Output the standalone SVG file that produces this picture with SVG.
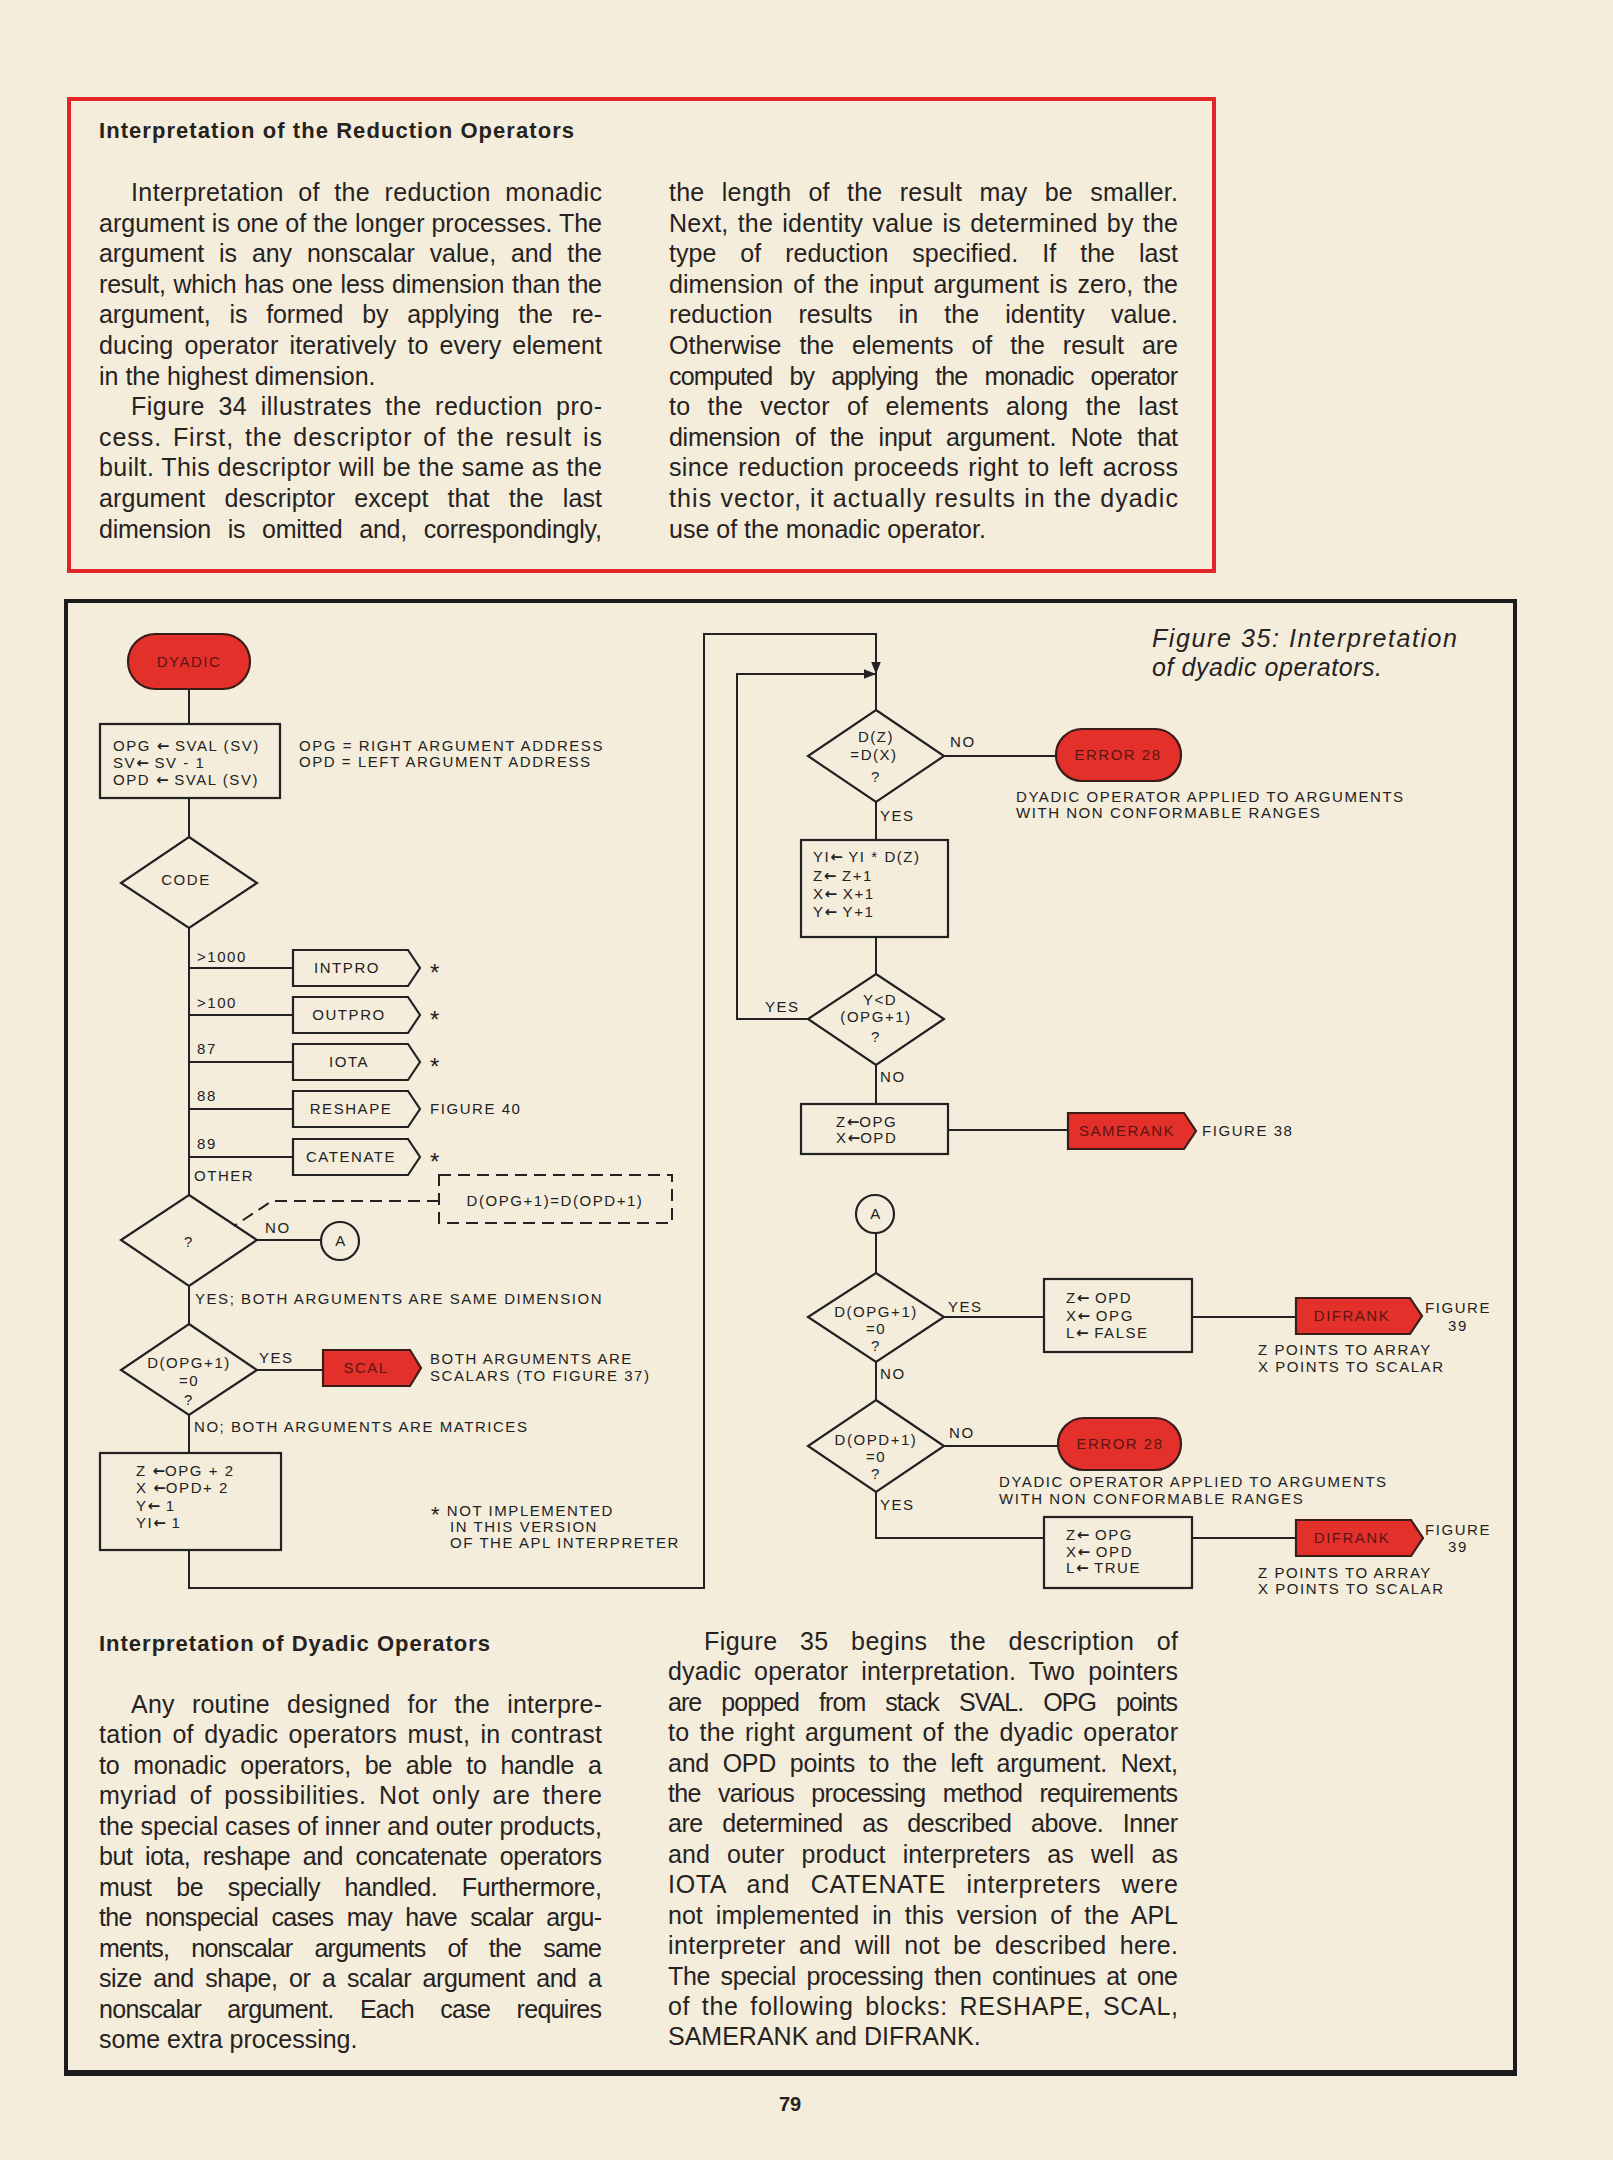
<svg xmlns="http://www.w3.org/2000/svg" width="1613" height="2160" viewBox="0 0 1613 2160">
<defs>
<style>
.bg{fill:#f4eddc}
.body{font-family:"Liberation Sans",Arial,sans-serif;font-size:25px;fill:#26221e}
.head{font-family:"Liberation Sans",Arial,sans-serif;font-size:22px;font-weight:bold;fill:#26221e}
.cap{font-family:"Liberation Sans",Arial,sans-serif;font-size:25px;font-style:italic;fill:#26221e}
.d{font-family:"Liberation Sans","DejaVu Sans",sans-serif;font-size:15px;letter-spacing:1.55px;fill:#222}
.dc{font-family:"Liberation Sans","DejaVu Sans",sans-serif;font-size:15px;letter-spacing:1.55px;fill:#222;text-anchor:middle}
.rt{font-family:"Liberation Sans","DejaVu Sans",sans-serif;font-size:15px;letter-spacing:1.5px;fill:#5a1612;text-anchor:middle}
.ar{font-family:"DejaVu Sans",sans-serif;font-weight:bold;letter-spacing:0}
.st{font-family:"Liberation Sans",sans-serif;font-size:24px;fill:#222}
.ln{fill:none;stroke:#222;stroke-width:2}
.sh{fill:none;stroke:#222;stroke-width:2.2}
.red{fill:#e4302b;stroke:#3a1c18;stroke-width:2.2}
.dash{fill:none;stroke:#222;stroke-width:2;stroke-dasharray:12 7}
</style>
<marker id="ah2" viewBox="0 0 10 10" refX="10" refY="5" markerWidth="16" markerHeight="12" markerUnits="userSpaceOnUse" orient="auto">
<path d="M0,1 L10,5 L0,9 Z" fill="#222"/>
</marker>
</defs>
<rect class="bg" x="0" y="0" width="1613" height="2160"/>

<!-- Top red sidebar -->
<g id="sidebar">
<rect x="69" y="99" width="1145" height="472" fill="none" stroke="#e0262b" stroke-width="4"/>
<text class="head" x="99" y="138" textLength="475" lengthAdjust="spacing">Interpretation of the Reduction Operators</text>
<text class="body" x="131" y="201" word-spacing="7" textLength="471" lengthAdjust="spacing">Interpretation of the reduction monadic</text>
<text class="body" x="99" y="232" textLength="503" lengthAdjust="spacing">argument is one of the longer processes. The</text>
<text class="body" x="99" y="262" word-spacing="8" textLength="503" lengthAdjust="spacing">argument is any nonscalar value, and the</text>
<text class="body" x="99" y="293" word-spacing="1" textLength="503" lengthAdjust="spacing">result, which has one less dimension than the</text>
<text class="body" x="99" y="323" word-spacing="12" textLength="503" lengthAdjust="spacing">argument, is formed by applying the re-</text>
<text class="body" x="99" y="354" word-spacing="4" textLength="503" lengthAdjust="spacing">ducing operator iteratively to every element</text>
<text class="body" x="99" y="385">in the highest dimension.</text>
<text class="body" x="131" y="415" word-spacing="6" textLength="471" lengthAdjust="spacing">Figure 34 illustrates the reduction pro-</text>
<text class="body" x="99" y="446" word-spacing="3" textLength="503" lengthAdjust="spacing">cess. First, the descriptor of the result is</text>
<text class="body" x="99" y="476" textLength="503" lengthAdjust="spacing">built. This descriptor will be the same as the</text>
<text class="body" x="99" y="507" word-spacing="12" textLength="503" lengthAdjust="spacing">argument descriptor except that the last</text>
<text class="body" x="99" y="538" word-spacing="10" textLength="503" lengthAdjust="spacing">dimension is omitted and, correspondingly,</text>
<text class="body" x="669" y="201" word-spacing="10" textLength="509" lengthAdjust="spacing">the length of the result may be smaller.</text>
<text class="body" x="669" y="232" word-spacing="2" textLength="509" lengthAdjust="spacing">Next, the identity value is determined by the</text>
<text class="body" x="669" y="262" word-spacing="17" textLength="509" lengthAdjust="spacing">type of reduction specified. If the last</text>
<text class="body" x="669" y="293" word-spacing="3" textLength="509" lengthAdjust="spacing">dimension of the input argument is zero, the</text>
<text class="body" x="669" y="323" word-spacing="19" textLength="509" lengthAdjust="spacing">reduction results in the identity value.</text>
<text class="body" x="669" y="354" word-spacing="11" textLength="509" lengthAdjust="spacing">Otherwise the elements of the result are</text>
<text class="body" x="669" y="385" word-spacing="11" textLength="509" lengthAdjust="spacing">computed by applying the monadic operator</text>
<text class="body" x="669" y="415" word-spacing="10" textLength="509" lengthAdjust="spacing">to the vector of elements along the last</text>
<text class="body" x="669" y="446" word-spacing="8" textLength="509" lengthAdjust="spacing">dimension of the input argument. Note that</text>
<text class="body" x="669" y="476" word-spacing="2" textLength="509" lengthAdjust="spacing">since reduction proceeds right to left across</text>
<text class="body" x="669" y="507" textLength="509" lengthAdjust="spacing">this vector, it actually results in the dyadic</text>
<text class="body" x="669" y="538">use of the monadic operator.</text>
</g>

<!-- Figure frame -->
<g id="frame">
<rect x="66" y="601" width="1449" height="1471" fill="none" stroke="#1c1c1c" stroke-width="4"/>
<line x1="64" y1="2073" x2="1517" y2="2073" stroke="#1c1c1c" stroke-width="6"/>
<text class="cap" x="1152" y="647" textLength="305" lengthAdjust="spacing">Figure 35: Interpretation</text>
<text class="cap" x="1152" y="676" textLength="230" lengthAdjust="spacing">of dyadic operators.</text>
</g>

<!-- Connectors -->
<g id="connectors">
<line class="ln" x1="189" y1="689" x2="189" y2="724"/>
<line class="ln" x1="189" y1="798" x2="189" y2="837"/>
<line class="ln" x1="189" y1="928" x2="189" y2="1195"/>
<line class="ln" x1="189" y1="968" x2="293" y2="968"/>
<line class="ln" x1="189" y1="1015" x2="293" y2="1015"/>
<line class="ln" x1="189" y1="1062" x2="293" y2="1062"/>
<line class="ln" x1="189" y1="1109" x2="293" y2="1109"/>
<line class="ln" x1="189" y1="1157" x2="293" y2="1157"/>
<line class="ln" x1="257" y1="1240" x2="321" y2="1240"/>
<polyline class="dash" points="439,1201 272,1201 234,1226"/>
<line class="ln" x1="189" y1="1286" x2="189" y2="1324"/>
<line class="ln" x1="257" y1="1370" x2="323" y2="1370"/>
<line class="ln" x1="189" y1="1415" x2="189" y2="1453"/>
<polyline class="ln" points="189,1550 189,1588 704,1588 704,634 876,634 876,674" marker-end="url(#ah2)"/>
<polyline class="ln" points="807,1019 737,1019 737,674 876,674" marker-end="url(#ah2)"/>
<line class="ln" x1="876" y1="674" x2="876" y2="710"/>
<line class="ln" x1="944" y1="756" x2="1056" y2="756"/>
<line class="ln" x1="876" y1="802" x2="876" y2="840"/>
<line class="ln" x1="876" y1="937" x2="876" y2="974"/>
<line class="ln" x1="876" y1="1065" x2="876" y2="1104"/>
<line class="ln" x1="948" y1="1130" x2="1068" y2="1130"/>
<line class="ln" x1="876" y1="1233" x2="876" y2="1273"/>
<line class="ln" x1="944" y1="1317" x2="1044" y2="1317"/>
<line class="ln" x1="1192" y1="1317" x2="1296" y2="1317"/>
<line class="ln" x1="876" y1="1362" x2="876" y2="1400"/>
<line class="ln" x1="944" y1="1446" x2="1058" y2="1446"/>
<polyline class="ln" points="876,1492 876,1538 1044,1538"/>
<line class="ln" x1="1192" y1="1538" x2="1296" y2="1538"/>
</g>

<!-- Connector labels -->
<g id="labels">
<text class="d" x="197" y="962">&gt;1000</text>
<text class="d" x="197" y="1008">&gt;100</text>
<text class="d" x="197" y="1054">87</text>
<text class="d" x="197" y="1101">88</text>
<text class="d" x="197" y="1149">89</text>
<text class="d" x="194" y="1181">OTHER</text>
<text class="d" x="265" y="1233">NO</text>
<text class="d" x="195" y="1304">YES; BOTH ARGUMENTS ARE SAME DIMENSION</text>
<text class="d" x="259" y="1363">YES</text>
<text class="d" x="194" y="1432">NO; BOTH ARGUMENTS ARE MATRICES</text>
<text class="d" x="950" y="747">NO</text>
<text class="d" x="880" y="821">YES</text>
<text class="d" x="765" y="1012">YES</text>
<text class="d" x="880" y="1082">NO</text>
<text class="d" x="948" y="1312">YES</text>
<text class="d" x="880" y="1379">NO</text>
<text class="d" x="949" y="1438">NO</text>
<text class="d" x="880" y="1510">YES</text>
</g>

<!-- Left column nodes -->
<g id="dyadic">
<rect class="red" x="128" y="634" width="122" height="55" rx="27.5"/>
<text class="rt" x="189" y="667">DYADIC</text>
</g>
<g id="init">
<rect class="sh" x="100" y="724" width="180" height="74"/>
<text class="d" x="113" y="751">OPG <tspan class="ar">←</tspan> SVAL (SV)</text>
<text class="d" x="113" y="768">SV<tspan class="ar">←</tspan> SV - 1</text>
<text class="d" x="113" y="785">OPD <tspan class="ar">←</tspan> SVAL (SV)</text>
<text class="d" x="299" y="751">OPG = RIGHT ARGUMENT ADDRESS</text>
<text class="d" x="299" y="767">OPD = LEFT ARGUMENT ADDRESS</text>
</g>
<g id="code">
<polygon class="sh" points="189,837 257,883 189,928 121,883"/>
<text class="dc" x="186" y="885">CODE</text>
</g>
<g id="intpro">
<path class="sh" d="M293,950 H408 L420,968 L408,986 H293 Z"/>
<text class="dc" x="347" y="973">INTPRO</text>
<text class="st" x="430" y="981">*</text>
</g>
<g id="outpro">
<path class="sh" d="M293,997 H408 L420,1015 L408,1033 H293 Z"/>
<text class="dc" x="349" y="1020">OUTPRO</text>
<text class="st" x="430" y="1028">*</text>
</g>
<g id="iota">
<path class="sh" d="M293,1044 H408 L420,1062 L408,1080 H293 Z"/>
<text class="dc" x="349" y="1067">IOTA</text>
<text class="st" x="430" y="1075">*</text>
</g>
<g id="reshape">
<path class="sh" d="M293,1091 H408 L420,1109 L408,1127 H293 Z"/>
<text class="dc" x="351" y="1114">RESHAPE</text>
<text class="d" x="430" y="1114">FIGURE 40</text>
</g>
<g id="catenate">
<path class="sh" d="M293,1139 H408 L420,1157 L408,1175 H293 Z"/>
<text class="dc" x="351" y="1162">CATENATE</text>
<text class="st" x="430" y="1170">*</text>
</g>
<g id="samedim">
<polygon class="sh" points="189,1195 257,1240 189,1286 121,1240"/>
<text class="dc" x="189" y="1247" font-size="17">?</text>
</g>
<g id="note-dim">
<rect class="dash" x="439" y="1175" width="233" height="48"/>
<text class="dc" x="555" y="1206">D(OPG+1)=D(OPD+1)</text>
</g>
<g id="connA1">
<circle class="sh" cx="340" cy="1241" r="19"/>
<text class="dc" x="341" y="1246">A</text>
</g>
<g id="scalar-test">
<polygon class="sh" points="189,1324 257,1370 189,1415 121,1370"/>
<text class="dc" x="189" y="1368">D(OPG+1)</text>
<text class="dc" x="189" y="1386">=0</text>
<text class="dc" x="189" y="1405">?</text>
</g>
<g id="scal">
<path class="red" d="M323,1350 H410 L421,1368 L410,1386 H323 Z"/>
<text class="rt" x="366" y="1373">SCAL</text>
<text class="d" x="430" y="1364">BOTH ARGUMENTS ARE</text>
<text class="d" x="430" y="1381">SCALARS (TO FIGURE 37)</text>
</g>
<g id="matrix-init">
<rect class="sh" x="100" y="1453" width="181" height="97"/>
<text class="d" x="136" y="1476">Z <tspan class="ar">←</tspan>OPG + 2</text>
<text class="d" x="136" y="1493">X <tspan class="ar">←</tspan>OPD+ 2</text>
<text class="d" x="136" y="1511">Y<tspan class="ar">←</tspan> 1</text>
<text class="d" x="136" y="1528">YI<tspan class="ar">←</tspan> 1</text>
</g>
<g id="footnote">
<text class="d" x="431" y="1516"><tspan font-size="22" dy="6">*</tspan><tspan dy="-6"> NOT IMPLEMENTED</tspan></text>
<text class="d" x="450" y="1532">IN THIS VERSION</text>
<text class="d" x="450" y="1548">OF THE APL INTERPRETER</text>
</g>

<!-- Right column nodes -->
<g id="dz-dx">
<polygon class="sh" points="876,710 944,756 876,802 808,756"/>
<text class="dc" x="876" y="742">D(Z)</text>
<text class="dc" x="874" y="760">=D(X)</text>
<text class="dc" x="876" y="782">?</text>
</g>
<g id="error1">
<rect class="red" x="1056" y="729" width="125" height="52" rx="26"/>
<text class="rt" x="1118" y="760">ERROR 28</text>
<text class="d" x="1016" y="802">DYADIC OPERATOR APPLIED TO ARGUMENTS</text>
<text class="d" x="1016" y="818">WITH NON CONFORMABLE RANGES</text>
</g>
<g id="loop-body">
<rect class="sh" x="801" y="840" width="147" height="97"/>
<text class="d" x="813" y="862">YI<tspan class="ar">←</tspan> YI * D(Z)</text>
<text class="d" x="813" y="881">Z<tspan class="ar">←</tspan> Z+1</text>
<text class="d" x="813" y="899">X<tspan class="ar">←</tspan> X+1</text>
<text class="d" x="813" y="917">Y<tspan class="ar">←</tspan> Y+1</text>
</g>
<g id="loop-test">
<polygon class="sh" points="876,974 944,1019 876,1065 808,1019"/>
<text class="dc" x="880" y="1005">Y&lt;D</text>
<text class="dc" x="876" y="1022">(OPG+1)</text>
<text class="dc" x="876" y="1042">?</text>
</g>
<g id="same-init">
<rect class="sh" x="801" y="1104" width="147" height="50"/>
<text class="d" x="836" y="1127">Z<tspan class="ar">←</tspan>OPG</text>
<text class="d" x="836" y="1143">X<tspan class="ar">←</tspan>OPD</text>
</g>
<g id="samerank">
<path class="red" d="M1068,1113 H1184 L1196,1131 L1184,1149 H1068 Z"/>
<text class="rt" x="1127" y="1136">SAMERANK</text>
<text class="d" x="1202" y="1136">FIGURE 38</text>
</g>
<g id="connA2">
<circle class="sh" cx="875" cy="1214" r="19"/>
<text class="dc" x="876" y="1219">A</text>
</g>
<g id="opg-scalar">
<polygon class="sh" points="876,1273 944,1317 876,1362 808,1317"/>
<text class="dc" x="876" y="1317">D(OPG+1)</text>
<text class="dc" x="876" y="1334">=0</text>
<text class="dc" x="876" y="1351">?</text>
</g>
<g id="false-init">
<rect class="sh" x="1044" y="1279" width="148" height="73"/>
<text class="d" x="1066" y="1303">Z<tspan class="ar">←</tspan> OPD</text>
<text class="d" x="1066" y="1321">X<tspan class="ar">←</tspan> OPG</text>
<text class="d" x="1066" y="1338">L<tspan class="ar">←</tspan> FALSE</text>
</g>
<g id="difrank1">
<path class="red" d="M1296,1298 H1410 L1422,1316 L1410,1334 H1296 Z"/>
<text class="rt" x="1352" y="1321">DIFRANK</text>
<text class="dc" x="1458" y="1313">FIGURE</text>
<text class="dc" x="1458" y="1331">39</text>
<text class="d" x="1258" y="1355">Z POINTS TO ARRAY</text>
<text class="d" x="1258" y="1372">X POINTS TO SCALAR</text>
</g>
<g id="opd-scalar">
<polygon class="sh" points="876,1400 944,1446 876,1492 808,1446"/>
<text class="dc" x="876" y="1445">D(OPD+1)</text>
<text class="dc" x="876" y="1462">=0</text>
<text class="dc" x="876" y="1479">?</text>
</g>
<g id="error2">
<rect class="red" x="1058" y="1418" width="123" height="52" rx="26"/>
<text class="rt" x="1120" y="1449">ERROR 28</text>
<text class="d" x="999" y="1487">DYADIC OPERATOR APPLIED TO ARGUMENTS</text>
<text class="d" x="999" y="1504">WITH NON CONFORMABLE RANGES</text>
</g>
<g id="true-init">
<rect class="sh" x="1044" y="1517" width="148" height="71"/>
<text class="d" x="1066" y="1540">Z<tspan class="ar">←</tspan> OPG</text>
<text class="d" x="1066" y="1557">X<tspan class="ar">←</tspan> OPD</text>
<text class="d" x="1066" y="1573">L<tspan class="ar">←</tspan> TRUE</text>
</g>
<g id="difrank2">
<path class="red" d="M1296,1520 H1411 L1423,1538 L1411,1556 H1296 Z"/>
<text class="rt" x="1352" y="1543">DIFRANK</text>
<text class="dc" x="1458" y="1535">FIGURE</text>
<text class="dc" x="1458" y="1552">39</text>
<text class="d" x="1258" y="1578">Z POINTS TO ARRAY</text>
<text class="d" x="1258" y="1594">X POINTS TO SCALAR</text>
</g>

<!-- Bottom text -->
<g id="article">
<text class="head" x="99" y="1651" textLength="391" lengthAdjust="spacing">Interpretation of Dyadic Operators</text>
<text class="body" x="131" y="1713" word-spacing="10" textLength="471" lengthAdjust="spacing">Any routine designed for the interpre-</text>
<text class="body" x="99" y="1743" word-spacing="3" textLength="503" lengthAdjust="spacing">tation of dyadic operators must, in contrast</text>
<text class="body" x="99" y="1774" word-spacing="7" textLength="503" lengthAdjust="spacing">to monadic operators, be able to handle a</text>
<text class="body" x="99" y="1804" word-spacing="5" textLength="503" lengthAdjust="spacing">myriad of possibilities. Not only are there</text>
<text class="body" x="99" y="1835" textLength="503" lengthAdjust="spacing">the special cases of inner and outer products,</text>
<text class="body" x="99" y="1865" word-spacing="6" textLength="503" lengthAdjust="spacing">but iota, reshape and concatenate operators</text>
<text class="body" x="99" y="1896" word-spacing="18" textLength="503" lengthAdjust="spacing">must be specially handled. Furthermore,</text>
<text class="body" x="99" y="1926" word-spacing="7" textLength="503" lengthAdjust="spacing">the nonspecial cases may have scalar argu-</text>
<text class="body" x="99" y="1957" word-spacing="16" textLength="503" lengthAdjust="spacing">ments, nonscalar arguments of the same</text>
<text class="body" x="99" y="1987" word-spacing="5" textLength="503" lengthAdjust="spacing">size and shape, or a scalar argument and a</text>
<text class="body" x="99" y="2018" word-spacing="20" textLength="503" lengthAdjust="spacing">nonscalar argument. Each case requires</text>
<text class="body" x="99" y="2048">some extra processing.</text>
<text class="body" x="704" y="1650" word-spacing="15" textLength="474" lengthAdjust="spacing">Figure 35 begins the description of</text>
<text class="body" x="668" y="1680" word-spacing="6" textLength="510" lengthAdjust="spacing">dyadic operator interpretation. Two pointers</text>
<text class="body" x="668" y="1711" word-spacing="14" textLength="510" lengthAdjust="spacing">are popped from stack SVAL. OPG points</text>
<text class="body" x="668" y="1741" word-spacing="3" textLength="510" lengthAdjust="spacing">to the right argument of the dyadic operator</text>
<text class="body" x="668" y="1772" word-spacing="7" textLength="510" lengthAdjust="spacing">and OPD points to the left argument. Next,</text>
<text class="body" x="668" y="1802" word-spacing="11" textLength="510" lengthAdjust="spacing">the various processing method requirements</text>
<text class="body" x="668" y="1832" word-spacing="13" textLength="510" lengthAdjust="spacing">are determined as described above. Inner</text>
<text class="body" x="668" y="1863" word-spacing="10" textLength="510" lengthAdjust="spacing">and outer product interpreters as well as</text>
<text class="body" x="668" y="1893" word-spacing="13" textLength="510" lengthAdjust="spacing">IOTA and CATENATE interpreters were</text>
<text class="body" x="668" y="1924" word-spacing="6" textLength="510" lengthAdjust="spacing">not implemented in this version of the APL</text>
<text class="body" x="668" y="1954" word-spacing="6" textLength="510" lengthAdjust="spacing">interpreter and will not be described here.</text>
<text class="body" x="668" y="1985" word-spacing="4" textLength="510" lengthAdjust="spacing">The special processing then continues at one</text>
<text class="body" x="668" y="2015" word-spacing="4" textLength="510" lengthAdjust="spacing">of the following blocks: RESHAPE, SCAL,</text>
<text class="body" x="668" y="2045">SAMERANK and DIFRANK.</text>
<text x="790" y="2111" text-anchor="middle" font-family="Liberation Sans, Arial, sans-serif" font-size="20" font-weight="bold" fill="#26221e">79</text>
</g>
</svg>
